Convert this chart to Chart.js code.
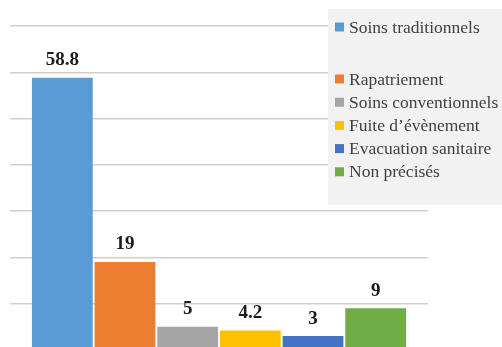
<!DOCTYPE html>
<html>
<head>
<meta charset="utf-8">
<script src="https://cdn.jsdelivr.net/npm/chart.js@4"></script>
<style>
  html, body { margin: 0; padding: 0; background: #fff; overflow: hidden; }
  .wrap { position: relative; width: 502px; height: 360px; }
</style>
</head>
<body>
<div class="wrap">
  <canvas id="chart" width="502" height="360"></canvas>
</div>
<script>
// data
const categories = ['Soins traditionnels', 'Rapatriement', 'Soins conventionnels', "Fuite d\u2019\u00e9v\u00e8nement", 'Evacuation sanitaire', 'Non pr\u00e9cis\u00e9s'];
const values = [58.8, 19, 5, 4.2, 3, 9];
const valueLabels = ['58.8', '19', '5', '4.2', '3', '9'];
const colors = ['#5b9bd5', '#ed7d31', '#a5a5a5', '#ffc000', '#4472c4', '#70ad47'];

// value labels above bars
const barLabels = {
    id: 'barLabels',
    afterDatasetsDraw(chart) {
        const ctx = chart.ctx;
        const meta = chart.getDatasetMeta(0);
        ctx.save();
        ctx.font = 'bold 19px "Liberation Serif"';
        ctx.fillStyle = '#1a1a1a';
        ctx.textAlign = 'center';
        ctx.textBaseline = 'bottom';
        meta.data.forEach((bar, i) => {
            ctx.fillText(valueLabels[i], bar.x, bar.y - 8);
        });
        ctx.restore();
    }
};

// legend box drawn on top right, over the grid
const boxLegend = {
    id: 'boxLegend',
    afterDraw(chart) {
        const ctx = chart.ctx;
        ctx.save();
        ctx.fillStyle = '#f2f2f2';
        ctx.fillRect(328, 9, 174, 196);
        ctx.font = '17.5px "Liberation Serif"';
        ctx.textBaseline = 'middle';
        let y = 27;
        categories.forEach((name, i) => {
            ctx.fillStyle = colors[i];
            ctx.fillRect(335, y - 4.5, 9, 9);
            ctx.fillStyle = '#404040';
            ctx.fillText(name, 349, y + 1);
            y += i === 0 ? 52 : 23.2;
        });
        ctx.restore();
    }
};

const chart = document.querySelector('#chart').getContext('2d');
new Chart(chart, {
    type: 'bar',
    data: {
        labels: categories,
        datasets: [{
            data: values,
            backgroundColor: colors,
            borderWidth: 0,
            barPercentage: 0.97,
            categoryPercentage: 1
        }]
    },
    options: {
        responsive: false,
        animation: false,
        layout: { padding: { left: 10, right: 74, top: 26, bottom: 10 } },
        plugins: { legend: { display: false }, tooltip: { enabled: false } },
        scales: {
            x: { display: false },
            y: {
                min: 0, max: 70,
                ticks: { display: false, stepSize: 10 },
                border: { display: false },
                grid: { color: '#cfcfcf', lineWidth: 1.5, tickLength: 21 }
            },
            y2: {
                position: 'right',
                min: 0, max: 70,
                ticks: { display: false, stepSize: 10 },
                border: { display: false },
                grid: { color: '#cfcfcf', lineWidth: 1.5, tickLength: 21, drawOnChartArea: false }
            }
        }
    },
    plugins: [barLabels, boxLegend]
});
</script>
</body>
</html>
